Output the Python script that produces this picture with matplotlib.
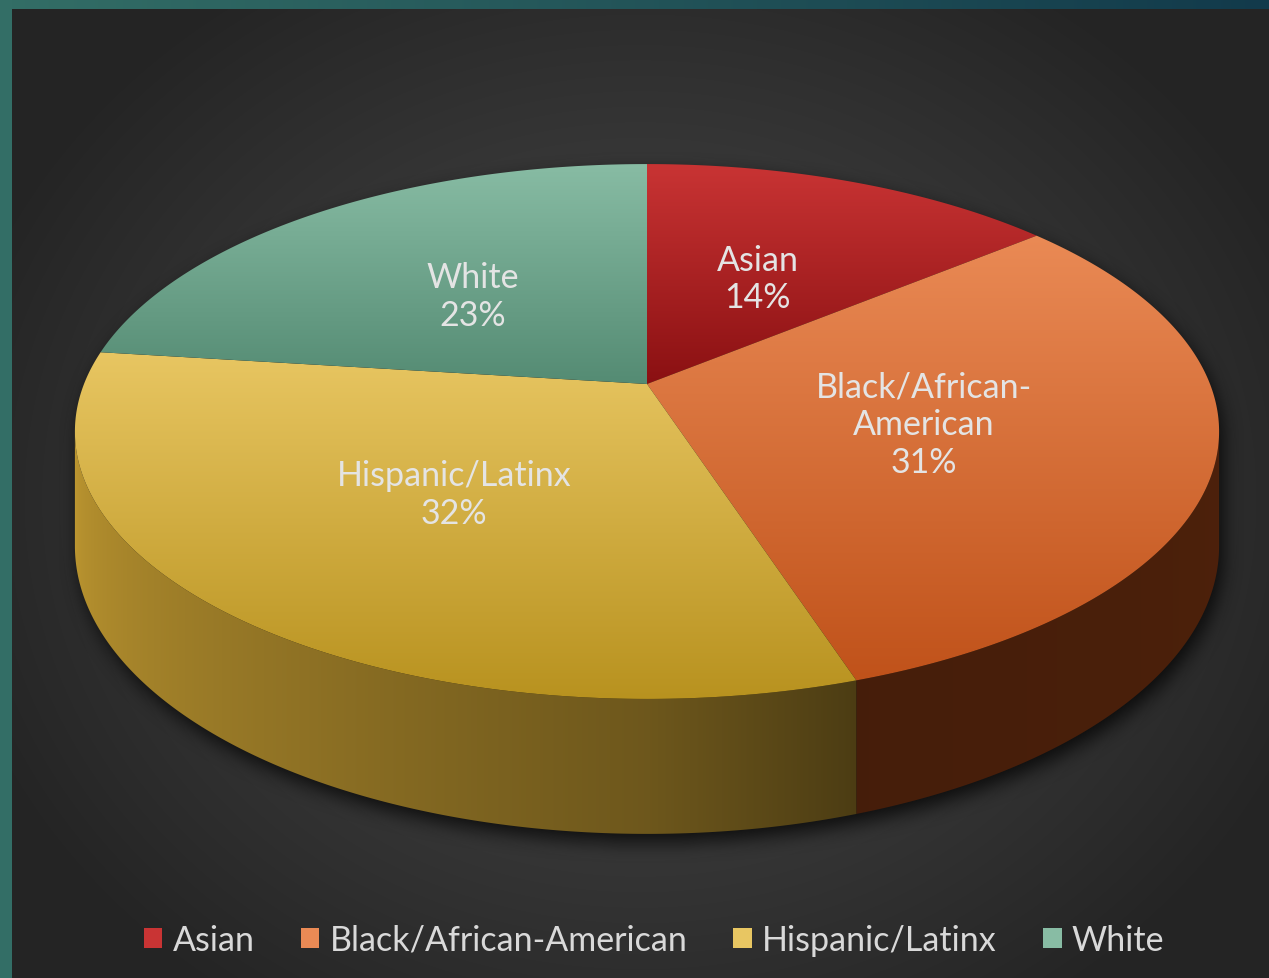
import numpy as np
import matplotlib
matplotlib.use("Agg")
import matplotlib.pyplot as plt
from matplotlib.patches import Polygon, Patch
from matplotlib.path import Path
from matplotlib.colors import to_rgb

plt.rcParams["font.family"] = ["Lato", "DejaVu Sans"]

# chart data
categories = ["Asian", "Black/African-American", "Hispanic/Latinx", "White"]
slice_labels = ["Asian", "Black/African-\nAmerican", "Hispanic/Latinx", "White"]
shares = [14, 31, 32, 23]

# top-face gradients (upper colour, lower colour) and side wall base colours
top_colors = [("#c93434", "#8a1012"), ("#ea8a55", "#c0521a"),
              ("#e8c662", "#b8921f"), ("#88bca4", "#548b73")]
side_colors = ["#a01c1c", "#c2531c", "#d3a836", "#5f9a80"]

W, H = 1269, 979
CX, CY = 647, 385          # pie centre on screen
A, B, P = 563, 259, 0.1776  # ellipse half-axes and perspective factor
DEPTH = 111                 # wall height
FS = 24.5


def project(theta, r=1.0, drop=0.0):
    """Screen position of a point on the disc; theta in degrees clockwise from 12 o'clock."""
    t = np.radians(theta)
    u, v = r * np.sin(t), r * np.cos(t)
    d = 1 + P * v
    return CX + A * u / d, CY - B * v / d + drop / d


def background():
    yy, xx = np.mgrid[0:H, 0:W].astype(float)
    dist = np.sqrt(((xx - 640) / 720) ** 2 + ((yy - 500) / 620) ** 2)
    g = (0x4a - (0x4a - 0x24) * np.clip(dist, 0, 1) ** 1.1) / 255
    img = np.dstack([g, g, g])
    teal = np.array(to_rgb("#336e66"))
    navy = np.array(to_rgb("#123a4b"))
    k = (np.arange(W) / W)[:, None]
    img[:10, :, :] = (teal * (1 - k) + navy * k)[None, :, :]
    img[:, :12, :] = teal
    return img


def box_blur(a, r, passes=3):
    for _ in range(passes):
        for axis in (0, 1):
            c = np.cumsum(np.pad(a, [(r + 1, r) if i == axis else (0, 0) for i in range(2)],
                                 mode="edge"), axis=axis)
            if axis == 0:
                a = (c[2 * r + 1:] - c[:-2 * r - 1]) / (2 * r + 1)
            else:
                a = (c[:, 2 * r + 1:] - c[:, :-2 * r - 1]) / (2 * r + 1)
    return a


fig = plt.figure(figsize=(W / 100, H / 100), dpi=100)
ax = fig.add_axes([0, 0, 1, 1])
ax.set_xlim(0, W)
ax.set_ylim(H, 0)
ax.axis("off")

ax.imshow(background(), extent=(0, W, H, 0), zorder=0, interpolation="bilinear")

# silhouette tangents of the disc
t_right = np.degrees(np.arccos(-P))
t_left = 360 - t_right

# soft drop shadow under the whole pie
back = np.linspace(t_left, t_right + 360, 300)
front = np.linspace(t_right, t_left, 200)
sx = np.concatenate([project(back)[0], project(front, drop=DEPTH)[0]])
sy = np.concatenate([project(back)[1], project(front, drop=DEPTH)[1]])
outline = Path(np.column_stack([sx + 4, sy + 8]))
step = 2
gy, gx = np.mgrid[0:H:step, 0:W:step]
mask = outline.contains_points(np.column_stack([gx.ravel(), gy.ravel()])).reshape(gx.shape)
shadow = box_blur(mask.astype(float), 4)
shadow_img = np.zeros(shadow.shape + (4,))
shadow_img[..., 3] = 0.75 * shadow
ax.imshow(shadow_img, extent=(0, W, H, 0), zorder=1, interpolation="bilinear")

# slice angles from the data
total = sum(shares)
edges = np.concatenate([[0], np.cumsum(shares) / total * 360])

# side walls, lit from the left: brightness follows the angle round the rim
shade_t = [100, 162, 180, 212, 260]
shade_v = [0.40, 0.36, 0.52, 0.68, 0.90]
rim_t = np.linspace(t_right, t_left, 800)
rim_x = project(rim_t, drop=DEPTH)[0]
for i in range(len(shares)):
    lo, hi = max(edges[i], t_right), min(edges[i + 1], t_left)
    if hi <= lo:
        continue
    ts = np.linspace(lo, hi, 200)
    tx, ty = project(ts)
    bx, by = project(ts[::-1], drop=DEPTH)
    px = np.concatenate([tx, bx])
    py = np.concatenate([ty, by])
    wall = Polygon(np.column_stack([px, py]), closed=True, facecolor="none",
                   edgecolor="none", zorder=2)
    ax.add_patch(wall)
    cols = np.linspace(px.min(), px.max(), 400)
    theta_at = np.interp(cols, rim_x[::-1], rim_t[::-1])
    shade = np.interp(theta_at, shade_t, shade_v)
    strip = np.clip(np.array(to_rgb(side_colors[i]))[None, :] * shade[:, None], 0, 1)[None, :, :]
    im = ax.imshow(strip, extent=(px.min() - 1, px.max() + 1, py.max() + 1, py.min() - 1),
                   aspect="auto", zorder=2, interpolation="bilinear")
    im.set_clip_path(wall)

# top faces with a vertical gradient per slice
for i in range(len(shares)):
    ts = np.linspace(edges[i], edges[i + 1], 200)
    ex, ey = project(ts)
    px = np.concatenate([[CX], ex])
    py = np.concatenate([[CY], ey])
    poly = Polygon(np.column_stack([px, py]), closed=True, facecolor="none",
                   edgecolor="none", zorder=3)
    ax.add_patch(poly)
    c0, c1 = np.array(to_rgb(top_colors[i][0])), np.array(to_rgb(top_colors[i][1]))
    k = np.linspace(0, 1, 256)[:, None]
    grad = (c0 * (1 - k) + c1 * k)[:, None, :]
    im = ax.imshow(grad, extent=(px.min() - 1, px.max() + 1, py.max() + 1, py.min() - 1),
                   aspect="auto", zorder=3, interpolation="bilinear")
    im.set_clip_path(poly)

    # data label at half radius along the mid angle
    lx, ly = project((edges[i] + edges[i + 1]) / 2, r=0.5)
    ax.text(lx, ly + 3, f"{slice_labels[i]}\n{shares[i] / total:.0%}", ha="center", va="center",
            fontsize=FS, color="#e4e4e4", linespacing=1.22, zorder=5)

handles = [Patch(facecolor=top_colors[i][0], edgecolor="none") for i in range(len(categories))]
fig.legend(handles, categories, loc="center", bbox_to_anchor=(654 / W, 1 - 941 / H), ncol=4,
           frameon=False, fontsize=FS, labelcolor="#d9d9d9", handlelength=0.55,
           handleheight=0.55, handletextpad=0.3, columnspacing=1.35)

fig.savefig("out.png", dpi=100)
